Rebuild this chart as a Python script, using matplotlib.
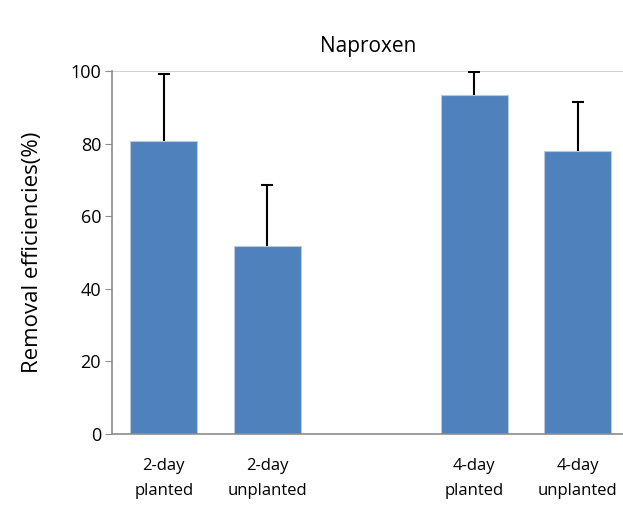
import matplotlib
matplotlib.use("Agg")
import matplotlib.pyplot as plt
import numpy as np

categories = ["2-day\nplanted", "2-day\nunplanted", "4-day\nplanted", "4-day\nunplanted"]
positions = [0, 1, 3, 4]
values = [80.7, 51.8, 93.4, 78.0]
err_upper = [18.5, 16.8, 6.3, 13.5]
yticks = [0, 20, 40, 60, 80, 100]

plt.rcParams['font.family'] = ['Open Sans', 'DejaVu Sans']

fig = plt.figure(figsize=(6.23, 5.08), dpi=100)
ax = fig.add_axes([0.18, 0.1457, 0.822, 0.7143])

ax.bar(positions, values, width=0.65, color="#4F81BD", edgecolor="#B9C9DD", linewidth=0.8,
       zorder=2)
eb = ax.errorbar(positions, values, yerr=[np.zeros(len(values)), err_upper], fmt='none',
                 ecolor="black", elinewidth=1.5, capsize=4, capthick=1.5, zorder=3)
caps = eb[1]
if len(caps) == 2:
    caps[0].set_visible(False)

ax.set_xlim(-0.5, 4.45)
ax.set_ylim(0, 100)
ax.axhline(100, color="#C8C8C8", linewidth=1.2, zorder=1)
ax.set_yticks(yticks)
ax.set_xticks(positions)
ax.set_xticklabels(categories, fontsize=12, linespacing=1.8)
ax.tick_params(axis='x', length=0, pad=17)
ax.tick_params(axis='y', length=5, color="#8C8C8C", labelsize=13, pad=3)
for s in ["top", "right"]:
    ax.spines[s].set_visible(False)
for s in ["left", "bottom"]:
    ax.spines[s].set_color("#8C8C8C")
    ax.spines[s].set_linewidth(1.2)

ax.set_ylabel("Removal efficiencies(%)", fontsize=16, labelpad=20)
ax.set_title("Naproxen", fontsize=15, pad=14)

fig.savefig("out.png", dpi=100)
